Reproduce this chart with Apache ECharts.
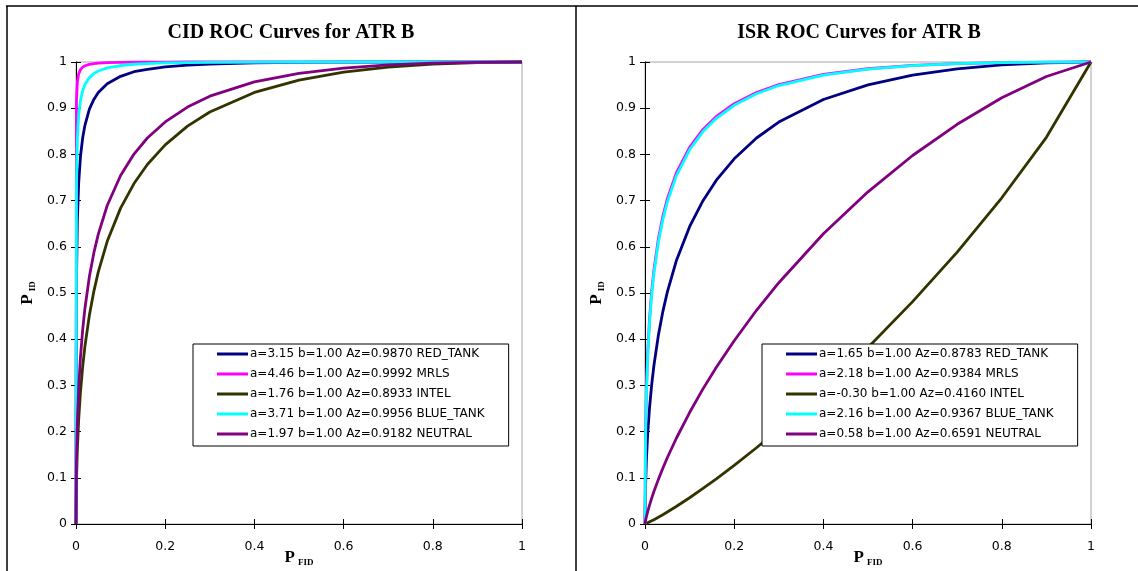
<!DOCTYPE html>
<html>
<head>
<meta charset="utf-8">
<title>CID / ISR ROC Curves for ATR B</title>
<script src="https://cdn.jsdelivr.net/npm/echarts@6/dist/echarts.min.js"></script>
<style>
  html, body { margin: 0; padding: 0; background: #fff; }
  #chart { width: 1138px; height: 571px; }
</style>
</head>
<body>
<div id="chart"></div>
<script>
// Target classes and their curve colours
const classes = ['RED_TANK', 'MRLS', 'INTEL', 'BLUE_TANK', 'NEUTRAL'];
const classColors = ['#000080', '#FF00FF', '#333300', '#00FFFF', '#800080'];

// Binormal fit parameters per class
const cidA = [3.15, 4.46, 1.76, 3.71, 1.97];
const cidB = [1.00, 1.00, 1.00, 1.00, 1.00];
const cidAz = [0.9870, 0.9992, 0.8933, 0.9956, 0.9182];
const isrA = [1.65, 2.18, -0.30, 2.16, 0.58];
const isrB = [1.00, 1.00, 1.00, 1.00, 1.00];
const isrAz = [0.8783, 0.9384, 0.4160, 0.9367, 0.6591];

// False identification probability (shared x positions)
const pFid = [0, 0.001, 0.003, 0.006, 0.01, 0.015, 0.02, 0.03, 0.04, 0.05, 0.07, 0.1,
  0.13, 0.16, 0.2, 0.25, 0.3, 0.4, 0.5, 0.6, 0.7, 0.8, 0.9, 1];

// CID identification probability
const cidRedTank = [0, 0.524, 0.656, 0.738, 0.795, 0.836, 0.863, 0.898, 0.919, 0.934, 0.953, 0.969,
  0.979, 0.984, 0.9895, 0.9934, 0.9957, 0.9981, 0.9992, 0.9997, 0.9999, 1, 1, 1];
const cidMrls = [0, 0.9147, 0.9566, 0.9743, 0.9836, 0.989, 0.9919, 0.995, 0.9966, 0.9976, 0.9986, 0.9993,
  0.9996, 0.9998, 0.9999, 1, 1, 1, 1, 1, 1, 1, 1, 1];
const cidIntel = [0, 0.0918, 0.1615, 0.226, 0.2857, 0.3409, 0.3844, 0.4518, 0.5036, 0.5458, 0.6118, 0.6837,
  0.7369, 0.7781, 0.8207, 0.8613, 0.8917, 0.9341, 0.9608, 0.9779, 0.9888, 0.9954, 0.9988, 1];
const cidBlueTank = [0, 0.7324, 0.832, 0.8846, 0.9168, 0.938, 0.9511, 0.9662, 0.9749, 0.9805, 0.9873, 0.9924,
  0.9951, 0.9967, 0.9979, 0.9988, 0.9993, 0.9997, 1, 1, 1, 1, 1, 1];
const cidNeutral = [0, 0.1314, 0.2183, 0.2939, 0.3609, 0.4207, 0.4665, 0.5355, 0.5867, 0.6274, 0.6894, 0.7543,
  0.8007, 0.8355, 0.8703, 0.9025, 0.926, 0.957, 0.9756, 0.9869, 0.9937, 0.9975, 0.9994, 1];

// ISR identification probability
const isrRedTank = [0, 0.0749, 0.1361, 0.1943, 0.2495, 0.3015, 0.3431, 0.4087, 0.4598, 0.502, 0.5691, 0.6436,
  0.6999, 0.7441, 0.7905, 0.8355, 0.8699, 0.9188, 0.9505, 0.9715, 0.9851, 0.9936, 0.9983, 1];
const isrMrls = [0, 0.1814, 0.285, 0.37, 0.442, 0.504, 0.5501, 0.6175, 0.666, 0.7037, 0.7593, 0.8154,
  0.854, 0.8822, 0.9096, 0.9339, 0.9511, 0.973, 0.9854, 0.9925, 0.9966, 0.9987, 0.9997, 1];
const isrIntel = [0, 0.0004, 0.0012, 0.0025, 0.0043, 0.0068, 0.0093, 0.0146, 0.0201, 0.0259, 0.0379, 0.0568,
  0.0769, 0.0978, 0.1268, 0.165, 0.205, 0.2901, 0.3821, 0.4813, 0.5886, 0.7061, 0.837, 1];
const isrBlueTank = [0, 0.1762, 0.2783, 0.3624, 0.4341, 0.496, 0.5422, 0.6099, 0.6587, 0.6967, 0.753, 0.81,
  0.8494, 0.8782, 0.9062, 0.9314, 0.9491, 0.9717, 0.9846, 0.9921, 0.9964, 0.9987, 0.9997, 1];
const isrNeutral = [0, 0.006, 0.0151, 0.0267, 0.0404, 0.0559, 0.0702, 0.0966, 0.1208, 0.1434, 0.1851, 0.2413,
  0.2925, 0.3394, 0.3967, 0.4626, 0.5223, 0.6282, 0.719, 0.7976, 0.8652, 0.9225, 0.9687, 1];

const cidCurves = [cidRedTank, cidMrls, cidIntel, cidBlueTank, cidNeutral];
const isrCurves = [isrRedTank, isrMrls, isrIntel, isrBlueTank, isrNeutral];

const SANS = '"DejaVu Sans", Arial, sans-serif';
const SERIF = '"Times New Roman", "Liberation Serif", serif';

function fitLabel(a, b, az, name) {
  return 'a=' + a.toFixed(2) + ' b=' + b.toFixed(2) + ' Az=' + az.toFixed(4) + ' ' + name;
}

const cidNames = classes.map((c, i) => fitLabel(cidA[i], cidB[i], cidAz[i], c));
const isrNames = classes.map((c, i) => fitLabel(isrA[i], isrB[i], isrAz[i], c));

const subRich = {
  p: { fontFamily: SERIF, fontSize: 17, fontWeight: 'bold', color: '#000', lineHeight: 17 },
  s: { fontFamily: SERIF, fontSize: 9, fontWeight: 'bold', color: '#000', lineHeight: 10,
       verticalAlign: 'bottom', padding: [0, 0, -1, 3] }
};

function mainX(gridIndex) {
  return {
    type: 'value', gridIndex: gridIndex, min: 0, max: 1, interval: 0.2, position: 'bottom',
    axisLine: { show: true, lineStyle: { color: '#000', width: 1 } },
    axisTick: { show: true, inside: false, length: 5, lineStyle: { color: '#000' } },
    axisLabel: { margin: 16, fontFamily: SANS, fontSize: 12.5, color: '#000' },
    splitLine: { show: false },
    name: '{p|P}{s|FID}', nameLocation: 'middle', nameGap: 25, nameMoveOverlap: false,
    nameTextStyle: { rich: subRich }
  };
}
function innerX(gridIndex) {
  return {
    type: 'value', gridIndex: gridIndex, min: 0, max: 1, interval: 0.2, position: 'bottom', offset: 0,
    axisLine: { show: false },
    axisTick: { show: true, inside: true, length: 5, lineStyle: { color: '#000' } },
    axisLabel: { show: false }, splitLine: { show: false }
  };
}
function mainY(gridIndex) {
  return {
    type: 'value', gridIndex: gridIndex, min: 0, max: 1, interval: 0.1, position: 'left',
    axisLine: { show: true, lineStyle: { color: '#000', width: 1 } },
    axisTick: { show: true, inside: false, length: 5, lineStyle: { color: '#000' } },
    axisLabel: { margin: 9, fontFamily: SANS, fontSize: 12.5, color: '#000' },
    splitLine: { show: false },
    name: '{p|P}{s|ID}', nameLocation: 'middle', nameGap: 40, nameRotate: 90, nameMoveOverlap: false,
    nameTextStyle: { rich: subRich }
  };
}
function innerY(gridIndex) {
  return {
    type: 'value', gridIndex: gridIndex, min: 0, max: 1, interval: 0.1, position: 'left', offset: 0,
    axisLine: { show: false },
    axisTick: { show: true, inside: true, length: 5, lineStyle: { color: '#000' } },
    axisLabel: { show: false }, splitLine: { show: false }
  };
}

function curveSeries(names, curves, axisIndex) {
  return names.map((n, i) => ({
    name: n, type: 'line', xAxisIndex: axisIndex, yAxisIndex: axisIndex,
    data: pFid.map((x, k) => [x, curves[i][k]]),
    showSymbol: false, symbol: 'none', clip: false, animation: false,
    color: classColors[i],
    lineStyle: { width: 2.8, color: classColors[i] },
    emphasis: { disabled: true }
  }));
}

function legendFor(names, left) {
  return {
    data: names, orient: 'vertical', left: left, top: 344,
    borderColor: '#000', borderWidth: 1, backgroundColor: '#fff',
    padding: [3, 24, 5, 24], itemGap: 6,
    itemWidth: 31, itemHeight: 3, icon: 'rect',
    textStyle: { fontFamily: SANS, fontSize: 12, color: '#000', lineHeight: 14, padding: [0, 0, 0, -3] },
    selectedMode: false
  };
}

const gridBase = { top: 62, width: 446, height: 462, show: true, borderColor: '#a6a6a6', borderWidth: 1,
  backgroundColor: 'transparent', containLabel: false, outerBoundsMode: 'none' };

const chart = echarts.init(document.getElementById('chart'), null, { renderer: 'canvas' });
chart.setOption({
  animation: false,
  backgroundColor: '#fff',
  title: [
    { text: 'CID ROC Curves for ATR B', left: 291, top: 23, textAlign: 'center', padding: 0,
      textStyle: { fontFamily: SERIF, fontSize: 20, fontWeight: 'bold', color: '#000' } },
    { text: 'ISR ROC Curves for ATR B', left: 859, top: 23, textAlign: 'center', padding: 0,
      textStyle: { fontFamily: SERIF, fontSize: 20, fontWeight: 'bold', color: '#000' } }
  ],
  grid: [
    Object.assign({ left: 76 }, gridBase),
    Object.assign({ left: 645 }, gridBase)
  ],
  xAxis: [mainX(0), innerX(0), mainX(1), innerX(1)],
  yAxis: [mainY(0), innerY(0), mainY(1), innerY(1)],
  legend: [legendFor(cidNames, 193), legendFor(isrNames, 762)],
  series: curveSeries(cidNames, cidCurves, 0).concat(curveSeries(isrNames, isrCurves, 2)),
  graphic: [
    { type: 'line', silent: true, shape: { x1: 6, y1: 6, x2: 1138, y2: 6 }, style: { stroke: '#000', lineWidth: 1.5 } },
    { type: 'line', silent: true, shape: { x1: 7, y1: 6, x2: 7, y2: 571 }, style: { stroke: '#000', lineWidth: 1.5 } },
    { type: 'line', silent: true, shape: { x1: 576, y1: 6, x2: 576, y2: 571 }, style: { stroke: '#000', lineWidth: 1.5 } }
  ]
});
</script>
</body>
</html>
